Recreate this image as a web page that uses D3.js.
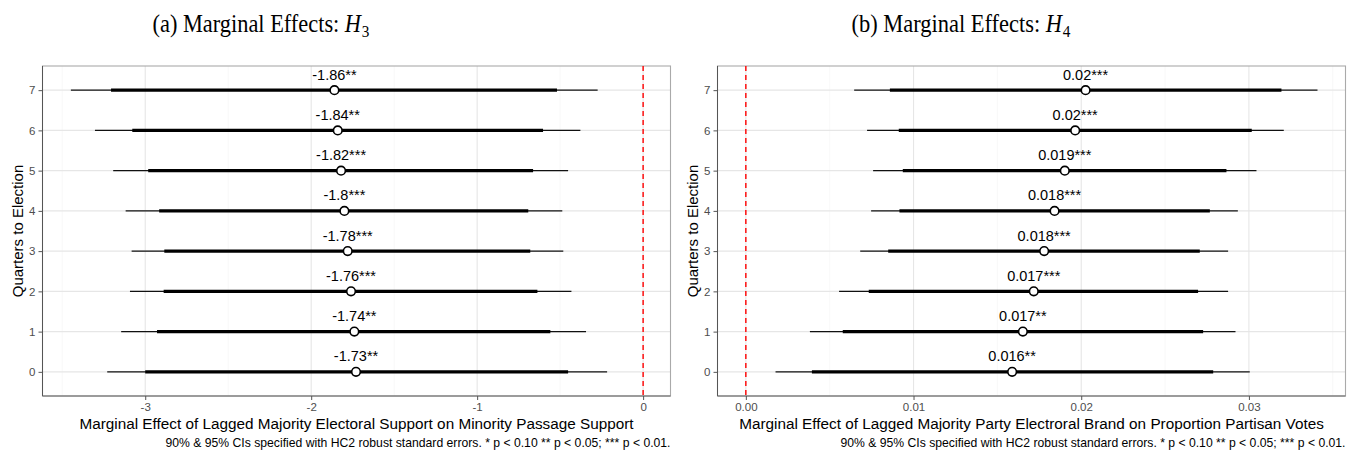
<!DOCTYPE html>
<html><head><meta charset="utf-8">
<script src="https://cdn.jsdelivr.net/npm/d3@7"></script>
<style>body{margin:0;background:#fff}svg{display:block}</style>
</head><body>
<svg id="c" width="1361" height="454"></svg>
<script>
const quarters = [0,1,2,3,4,5,6,7];
// Panel (a)
const aEst   = [-1.73,-1.74,-1.76,-1.78,-1.80,-1.82,-1.84,-1.86];
const aLo95  = [-3.229,-3.145,-3.092,-3.082,-3.118,-3.193,-3.303,-3.448];
const aLo90  = [-3.000,-2.929,-2.889,-2.885,-2.916,-2.982,-3.078,-3.206];
const aHi90  = [-0.452,-0.559,-0.637,-0.680,-0.692,-0.663,-0.603,-0.519];
const aHi95  = [-0.217,-0.344,-0.432,-0.481,-0.487,-0.452,-0.378,-0.274];
const aLabels = ["-1.73**","-1.74**","-1.76***","-1.78***","-1.8***","-1.82***","-1.84**","-1.86**"];
const aTicks = [-3,-2,-1,0];
const aTickLabels = ["-3","-2","-1","0"];
const aMinor = [-3.5,-2.5,-1.5,-0.5];
// Panel (b)
const bEst   = [0.01588,0.01652,0.01717,0.01779,0.01841,0.01902,0.01964,0.02026];
const bLo95  = [0.00177,0.00382,0.00556,0.00682,0.00747,0.00759,0.00723,0.00646];
const bLo90  = [0.00394,0.00578,0.00733,0.00849,0.00916,0.00936,0.00912,0.00859];
const bHi90  = [0.02787,0.02727,0.02697,0.02707,0.02767,0.02866,0.03017,0.03194];
const bHi95  = [0.03005,0.02920,0.02876,0.02876,0.02934,0.03045,0.03208,0.03409];
const bLabels = ["0.016**","0.017**","0.017***","0.018***","0.018***","0.019***","0.02***","0.02***"];
const bTicks = [0,0.01,0.02,0.03];
const bTickLabels = ["0.00","0.01","0.02","0.03"];
const bMinor = [0.005,0.015,0.025,0.035];

const svg = d3.select("#c");
const SANS = "Liberation Sans, Arial, Helvetica, sans-serif";
const SERIF = "Liberation Serif, Times New Roman, serif";

function panel(o){
  const g = svg.append("g");
  const x = d3.scaleLinear().domain(o.xdom).range([o.left,o.right]);
  const y = d3.scaleLinear().domain([-0.6,7.6]).range([o.bottom,o.top]);
  // grid
  g.selectAll(".mx").data(o.minor).join("line")
    .attr("x1",d=>x(d)).attr("x2",d=>x(d)).attr("y1",o.top).attr("y2",o.bottom)
    .attr("stroke","#f3f3f3").attr("stroke-width",0.6);
  g.selectAll(".Mx").data(o.ticks).join("line")
    .attr("x1",d=>x(d)).attr("x2",d=>x(d)).attr("y1",o.top).attr("y2",o.bottom)
    .attr("stroke","#e6e6e6").attr("stroke-width",1.1);
  g.selectAll(".My").data(quarters).join("line")
    .attr("x1",o.left).attr("x2",o.right).attr("y1",d=>y(d)).attr("y2",d=>y(d))
    .attr("stroke","#e6e6e6").attr("stroke-width",1.1);
  // border
  g.append("rect").attr("x",o.left).attr("y",o.top).attr("width",o.right-o.left).attr("height",o.bottom-o.top)
    .attr("fill","none").attr("stroke","#aaaaaa").attr("stroke-width",1.1);
  g.append("line").attr("x1",o.left).attr("x2",o.left).attr("y1",o.top).attr("y2",o.bottom).attr("stroke","#555").attr("stroke-width",1);
  g.append("line").attr("x1",o.left).attr("x2",o.right).attr("y1",o.bottom).attr("y2",o.bottom).attr("stroke","#666").attr("stroke-width",1);
  // axes
  const xa = d3.axisBottom(x).tickValues(o.ticks).tickFormat((d,i)=>o.tickLabels[i]).tickSize(4).tickPadding(3);
  const xg = g.append("g").attr("transform",`translate(0,${o.bottom})`).call(xa);
  xg.select(".domain").remove();
  xg.selectAll("line").attr("stroke","#555");
  xg.selectAll("text").attr("fill","#4d4d4d").style("font-family",SANS).style("font-size","11.5px");
  const ya = d3.axisLeft(y).tickValues(quarters).tickFormat(d3.format("d")).tickSize(4).tickPadding(3);
  const yg = g.append("g").attr("transform",`translate(${o.left},0)`).call(ya);
  yg.select(".domain").remove();
  yg.selectAll("line").attr("stroke","#555");
  yg.selectAll("text").attr("fill","#4d4d4d").style("font-family",SANS).style("font-size","11.5px");
  // zero line
  g.append("line").attr("x1",x(0)).attr("x2",x(0)).attr("y1",o.top).attr("y2",o.bottom)
    .attr("stroke","#ff0000").attr("stroke-width",1.4).attr("stroke-dasharray","5,4");
  // intervals
  g.selectAll(".ci95").data(quarters).join("line")
    .attr("x1",(d,i)=>x(o.lo95[i])).attr("x2",(d,i)=>x(o.hi95[i]))
    .attr("y1",d=>y(d)).attr("y2",d=>y(d)).attr("stroke","#111").attr("stroke-width",1.3);
  g.selectAll(".ci90").data(quarters).join("line")
    .attr("x1",(d,i)=>x(o.lo90[i])).attr("x2",(d,i)=>x(o.hi90[i]))
    .attr("y1",d=>y(d)).attr("y2",d=>y(d)).attr("stroke","#000").attr("stroke-width",3.2);
  g.selectAll(".pt").data(quarters).join("circle")
    .attr("cx",(d,i)=>x(o.est[i])).attr("cy",d=>y(d)).attr("r",4.3)
    .attr("fill","#fff").attr("stroke","#000").attr("stroke-width",1.6);
  g.selectAll(".lab").data(quarters).join("text")
    .attr("x",(d,i)=>x(o.est[i])).attr("y",d=>y(d)-10.5)
    .attr("text-anchor","middle").style("font-family",SANS).style("font-size","14.5px").attr("fill","#000")
    .text((d,i)=>o.labels[i]);
  // axis titles
  g.append("text").attr("x",(o.left+o.right)/2).attr("y",428.5).attr("text-anchor","middle")
    .style("font-family",SANS).style("font-size","15.3px").attr("fill","#000").text(o.xtitle);
  g.append("text").attr("transform",`translate(${o.left-19.5},${(o.top+o.bottom)/2}) rotate(-90)`)
    .attr("text-anchor","middle").style("font-family",SANS).style("font-size","15px").attr("fill","#000")
    .text("Quarters to Election");
  g.append("text").attr("x",o.right).attr("y",446.5).attr("text-anchor","end")
    .style("font-family",SANS).style("font-size","12.2px").attr("fill","#000")
    .text("90% & 95% CIs specified with HC2 robust standard errors. * p < 0.10 ** p < 0.05; *** p < 0.01.");
  // panel title: three separate pieces laid out side by side, then squeezed horizontally
  const tg = svg.append("g");
  const t1 = tg.append("text").attr("x",0).attr("y",0)
    .style("font-family",SERIF).style("font-size","25px").attr("fill","#000").text(o.titlePre);
  const w1 = t1.node().getComputedTextLength() + 6;
  const t2 = tg.append("text").attr("x",w1).attr("y",0)
    .style("font-family",SERIF).style("font-size","25px").style("font-style","italic").attr("fill","#000").text("H");
  const w2 = w1 + t2.node().getComputedTextLength() + 1;
  const t3 = tg.append("text").attr("x",w2).attr("y",5)
    .style("font-family",SERIF).style("font-size","17px").attr("fill","#000").text(o.sub);
  const wTot = w2 + t3.node().getComputedTextLength();
  const sx = o.titleW / wTot;
  tg.attr("transform",`translate(${o.titleX - o.titleW/2},32) scale(${sx},1)`);
}

panel({left:42.5,right:670.5,top:66,bottom:396,xdom:[-3.619,0.165],
  ticks:aTicks,tickLabels:aTickLabels,minor:aMinor,
  est:aEst,lo95:aLo95,lo90:aLo90,hi90:aHi90,hi95:aHi95,labels:aLabels,
  xtitle:"Marginal Effect of Lagged Majority Electoral Support on Minority Passage Support",
  titleX:261,titleW:217,titlePre:"(a) Marginal Effects:",sub:"3"});
panel({left:717.5,right:1345.5,top:66,bottom:396,xdom:[-0.00169,0.03576],
  ticks:bTicks,tickLabels:bTickLabels,minor:bMinor,
  est:bEst,lo95:bLo95,lo90:bLo90,hi90:bHi90,hi95:bHi95,labels:bLabels,
  xtitle:"Marginal Effect of Lagged Majority Party Electroral Brand on Proportion Partisan Votes",
  titleX:961,titleW:219,titlePre:"(b) Marginal Effects:",sub:"4"});
</script>
</body></html>
